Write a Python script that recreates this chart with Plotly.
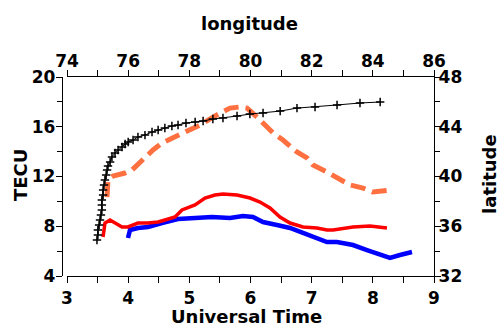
import plotly.graph_objects as go

# Black track: longitude (top axis) vs latitude (right axis)
track_lon = [74.98, 75.01, 75.01, 75.05, 75.08, 75.11, 75.14, 75.14, 75.14, 75.18,
             75.18, 75.21, 75.24, 75.28, 75.31, 75.34, 75.41, 75.47, 75.57, 75.67,
             75.80, 75.90, 76.00, 76.16, 76.32, 76.55, 76.78, 76.98, 77.20, 77.43,
             77.63, 77.89, 78.19, 78.45, 78.77, 79.10, 79.56, 79.98, 80.41, 80.97,
             81.52, 82.11, 82.83, 83.58, 84.24]
track_lat = [34.89, 35.30, 35.70, 36.10, 36.50, 36.90, 37.31, 37.71, 38.11, 38.51,
             38.91, 39.32, 39.72, 40.12, 40.52, 40.84, 41.16, 41.57, 41.89, 42.13,
             42.37, 42.61, 42.77, 42.93, 43.17, 43.33, 43.58, 43.74, 43.90, 44.06,
             44.14, 44.30, 44.38, 44.46, 44.62, 44.70, 44.86, 45.02, 45.10, 45.26,
             45.50, 45.59, 45.75, 45.91, 45.99]

# Orange dashed: UT vs TECU
orange_ut = [3.654, 3.670, 3.752, 3.834, 3.948, 4.063, 4.161, 4.275, 4.406, 4.553,
             4.766, 5.011, 5.174, 5.387, 5.501, 5.665, 5.828, 5.943, 6.106, 6.204,
             6.368, 6.531, 6.760, 6.924, 7.022, 7.250, 7.463, 7.626, 7.839, 8.002, 8.280]
orange_tec = [10.35, 11.72, 12.04, 12.12, 12.28, 12.52, 13.00, 13.57, 14.13, 14.69,
              15.17, 15.74, 16.14, 16.78, 17.10, 17.50, 17.59, 17.50, 16.78, 16.30,
              15.50, 14.93, 13.97, 13.49, 12.92, 12.36, 11.72, 11.32, 11.07, 10.75, 10.91]

# Red: UT vs TECU
red_ut = [3.589, 3.621, 3.703, 3.785, 3.899, 3.997, 4.161, 4.324, 4.488, 4.602,
          4.766, 4.880, 5.093, 5.256, 5.419, 5.550, 5.779, 5.992, 6.155, 6.319,
          6.482, 6.646, 6.858, 7.087, 7.250, 7.349, 7.676, 7.953, 8.231]
red_tec = [7.14, 8.26, 8.50, 8.26, 7.94, 7.94, 8.26, 8.26, 8.34, 8.50,
           8.74, 9.31, 9.71, 10.27, 10.51, 10.59, 10.51, 10.27, 9.95, 9.47,
           8.74, 8.26, 7.94, 7.86, 7.70, 7.70, 7.94, 8.02, 7.86]

# Blue: UT vs TECU
blue_ut = [3.997, 4.030, 4.161, 4.324, 4.553, 4.815, 5.093, 5.370, 5.665, 5.877,
           6.041, 6.204, 6.433, 6.646, 6.858, 7.087, 7.250, 7.414, 7.676, 7.904,
           8.117, 8.280, 8.444, 8.640]
blue_tec = [7.05, 7.70, 7.86, 7.94, 8.26, 8.58, 8.66, 8.74, 8.66, 8.82,
            8.74, 8.34, 8.10, 7.86, 7.46, 7.05, 6.73, 6.73, 6.49, 6.09,
            5.69, 5.45, 5.69, 5.93]

ut_ticks = [3, 4, 5, 6, 7, 8, 9]
lon_ticks = [74, 76, 78, 80, 82, 84, 86]
tec_ticks = [4, 8, 12, 16, 20]
lat_ticks = [32, 36, 40, 44, 48]

FONT = "DejaVu Sans"
tickfont = dict(family=FONT, size=17, color="black", weight="bold")
titlefont = dict(family=FONT, size=18, color="black", weight="bold")

fig = go.Figure()
fig.add_trace(go.Scatter(x=blue_ut, y=blue_tec, mode="lines",
                         line=dict(color="#0000FF", width=4.5), xaxis="x", yaxis="y"))
fig.add_trace(go.Scatter(x=red_ut, y=red_tec, mode="lines",
                         line=dict(color="#FF0000", width=3.5), xaxis="x", yaxis="y"))
fig.add_trace(go.Scatter(x=orange_ut, y=orange_tec, mode="lines",
                         line=dict(color="#FF7040", width=5, dash="15px,7px"),
                         xaxis="x", yaxis="y"))
fig.add_trace(go.Scatter(x=track_lon, y=track_lat, mode="lines+markers",
                         line=dict(color="black", width=1),
                         marker=dict(symbol="cross-thin", size=6, color="black",
                                     line=dict(color="black", width=1.5)),
                         xaxis="x2", yaxis="y2"))

axis_common = dict(showgrid=False, zeroline=False, showline=True, linecolor="black",
                   linewidth=1.3, ticks="outside", ticklen=6, tickwidth=1.3,
                   tickcolor="black", tickfont=tickfont, automargin=False)

titles = [
    dict(text="longitude", x=0.503, y=1.271, textangle=0),
    dict(text="Universal Time", x=0.497, y=-0.206, textangle=0),
    dict(text="TECU", x=-0.110, y=0.508, textangle=-90),
    dict(text="latitude", x=1.1505, y=0.513, textangle=-90),
]

fig.update_layout(
    width=502, height=329,
    margin=dict(l=62, r=68, t=77, b=53),
    paper_bgcolor="white", plot_bgcolor="white",
    showlegend=False,
    xaxis=dict(axis_common, domain=[5/372, 1], range=[3, 9], tickvals=ut_ticks,
               minor=dict(dtick=0.5, ticks="outside", ticklen=6, tickwidth=1.3, tickcolor="black"),
               anchor="y"),
    xaxis2=dict(axis_common, domain=[5/372, 1], range=[74, 86], tickvals=lon_ticks,
                minor=dict(dtick=1, ticks="outside", ticklen=6, tickwidth=1.3, tickcolor="black"),
                overlaying="x", side="top", anchor="y", ticklabelstandoff=-4),
    yaxis=dict(axis_common, range=[4, 20], tickvals=tec_ticks, anchor="free", position=0,
               minor=dict(dtick=2, ticks="outside", ticklen=5, tickwidth=1.3, tickcolor="black"),
               ticklabelstandoff=-3),
    yaxis2=dict(axis_common, range=[32, 48], tickvals=lat_ticks, overlaying="y",
                side="right", anchor="x",
                minor=dict(dtick=2, ticks="outside", ticklen=5, tickwidth=1.3, tickcolor="black"),
                ticklabelstandoff=-6),
    annotations=[dict(text=t["text"], x=t["x"], y=t["y"], xref="paper", yref="paper",
                      xanchor="center", yanchor="middle", textangle=t["textangle"],
                      showarrow=False, font=titlefont) for t in titles],
)

fig.write_html("out.html", config={"displayModeBar": False},
               post_script="document.body.style.margin='0';document.body.style.overflow='hidden';")
